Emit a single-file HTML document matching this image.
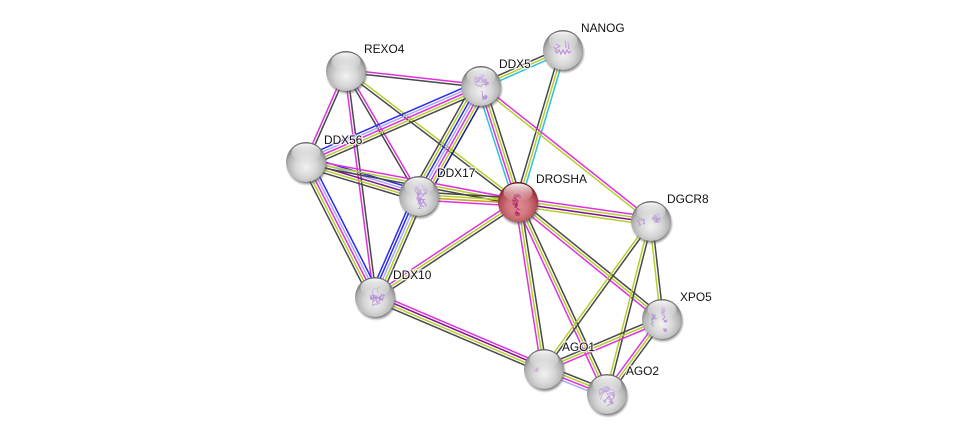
<!DOCTYPE html>
<html><head><meta charset="utf-8">
<style>
html,body{margin:0;padding:0;background:#fff;width:975px;height:438px;overflow:hidden}
svg{display:block}
text{font-family:"Liberation Sans",sans-serif;font-size:11.9px;fill:#111;paint-order:stroke;stroke:rgba(255,255,255,.75);stroke-width:2.5px}
</style></head><body>
<svg id="s" xmlns="http://www.w3.org/2000/svg" width="975" height="438" viewBox="0 0 975 438">
<defs>
<radialGradient id="g" cx=".5" cy=".62" r=".6">
<stop offset="0" stop-color="#f2f2f2"/><stop offset=".45" stop-color="#d6d6d6"/><stop offset=".75" stop-color="#b4b4b4"/><stop offset=".92" stop-color="#888"/><stop offset="1" stop-color="#686868"/>
</radialGradient>
<radialGradient id="r" cx=".5" cy=".62" r=".6">
<stop offset="0" stop-color="#e08d95"/><stop offset=".45" stop-color="#d0747c"/><stop offset=".75" stop-color="#b44e58"/><stop offset=".92" stop-color="#8c2a32"/><stop offset="1" stop-color="#6a1218"/>
</radialGradient>
<linearGradient id="h" x1="0" y1="0" x2="0" y2="1">
<stop offset="0" stop-color="#fff" stop-opacity=".95"/><stop offset=".55" stop-color="#fff" stop-opacity=".35"/><stop offset="1" stop-color="#fff" stop-opacity="0"/>
</linearGradient>
<radialGradient id="sh" cx=".5" cy=".5" r=".5">
<stop offset=".82" stop-color="#444" stop-opacity=".7"/><stop offset="1" stop-color="#777" stop-opacity="0"/>
</radialGradient>
<filter id="bl" x="-20%" y="-20%" width="140%" height="140%"><feGaussianBlur stdDeviation=".25"/></filter>
<g id="n"><circle cx="1" cy="2.5" r="21.5" fill="url(#sh)"/><circle r="20" fill="url(#g)"/></g>
<g id="m"><circle cx="1" cy="2.5" r="21.5" fill="url(#sh)"/><circle r="20" fill="url(#r)"/></g>
<ellipse id="hl" cx="0" cy="-9.5" rx="14.5" ry="9" fill="url(#h)"/>
</defs>
<g id="e"></g>

<use href="#n" x="346" y="71"/><use href="#hl" x="346" y="71"/>
<use href="#n" x="306" y="162"/><use href="#hl" x="306" y="162"/>

<use href="#n" x="481" y="86"/><g id="p_D5"></g><use href="#hl" x="481" y="86"/>

<use href="#n" x="563" y="50"/>
<path d="M555 50l2 3 2-3 2 4 2-4 2 4 2-4 2 3 2-2M565 40l1 8M568 42l1 7M556 44l4 2-3 2M554 47l3 3" fill="none" stroke="#b98ad8" stroke-width="1.1" filter="url(#bl)"/>
<use href="#hl" x="563" y="50"/>

<use href="#n" x="419" y="196"/><g id="p_D7"></g><use href="#hl" x="419" y="196"/>
<use href="#m" x="518" y="202"/><g id="p_DR"></g><use href="#hl" x="518" y="202"/>
<use href="#n" x="651" y="221"/><g id="p_G"></g><use href="#hl" x="651" y="221"/>
<use href="#n" x="662" y="319"/><g id="p_X"></g><use href="#hl" x="662" y="319"/>
<use href="#n" x="544" y="369"/><g id="p_A1"></g><use href="#hl" x="544" y="369"/>
<use href="#n" x="607" y="394"/><g id="p_A2"></g><use href="#hl" x="607" y="394"/>
<use href="#n" x="375" y="297"/><g id="p_D0"></g><use href="#hl" x="375" y="297"/>

<text x="364" y="53">REXO4</text>
<text x="499" y="68">DDX5</text>
<text x="581" y="32">NANOG</text>
<text x="324" y="144">DDX56</text>
<text x="437" y="177">DDX17</text>
<text x="536" y="183">DROSHA</text>
<text x="667" y="203">DGCR8</text>
<text x="680" y="301">XPO5</text>
<text x="562" y="351">AGO1</text>
<text x="626" y="375">AGO2</text>
<text x="393" y="279">DDX10</text>
</svg>
<script>
(function(){
var P={R:[346,71],D5:[481,86],N:[563,50],D6:[306,162],D7:[419,196],DR:[518,202],G:[651,221],X:[662,319],A1:[544,369],A2:[607,394],D0:[375,297]};
var k='#484848',y='#b5cf2a',m='#e02fe0',b='#2a2aee',l='#a8a8ff',c='#2fc0e0',v='#801090',n='#1a1a90',o='#c9a020';
var E=[
['R','D5',[m,k]],['R','D6',[k,m]],['R','D0',[k,m]],['R','D7',[m,k]],['R','DR',[y,k]],
['D5','N',[k,y,c]],['N','DR',[c,y,k]],['D5','DR',[k,y,m,c]],['D5','G',[m,y]],
['D5','D6',[k,y,m,l,b]],['D5','D7',[n,y,m,l,b,y,k]],['D7','D0',[k,y,l,b,b]],
['D6','D7',[b,l,v,y,k]],['D6','DR',[m,y,k]],['D6','D0',[b,l,m,y,k]],
['D7','DR',[k,y,o,m]],['D0','DR',[m,y,k]],['D0','A1',[m,v,y,k]],
['DR','G',[m,y,v,y]],['DR','A1',[k,y,m]],['DR','A2',[k,y,m]],['DR','X',[k,y,m]],
['G','A1',[k,y]],['G','A2',[k,y]],['G','X',[k,y]],
['X','A1',[m,y,k]],['X','A2',[k,y,m]],['A1','A2',[k,y,m,l]]
];
var g=document.getElementById('e'),S=2.7,ns='http://www.w3.org/2000/svg';
E.forEach(function(e){
var a=P[e[0]],d=P[e[1]],dx=d[0]-a[0],dy=d[1]-a[1],L=Math.sqrt(dx*dx+dy*dy),nx=-dy/L,ny=dx/L,C=e[2];
C.forEach(function(col,i){
var t=(i-(C.length-1)/2)*S,li=document.createElementNS(ns,'line');
li.setAttribute('x1',a[0]+nx*t);li.setAttribute('y1',a[1]+ny*t);
li.setAttribute('x2',d[0]+nx*t);li.setAttribute('y2',d[1]+ny*t);
li.setAttribute('stroke',col);li.setAttribute('stroke-width','1.5');
g.appendChild(li);
});
});
var seed=11;function rnd(){seed=(seed*16807)%2147483647;return seed/2147483647;}
/* protein ribbons: [node, cx, cy, rx, ry, rotation(rad), steps, colour, width] */
var B=[
['D5',481,83,8,11,0.15,90,'#b088d4',.7],['D5',482,95,7,6,0,40,'#b088d4',.7],
['D7',420,192,8,10,0,80,'#b088d4',.7],['D7',421,204,6,7,0,35,'#b088d4',.7],
['D0',378,295,7,12,.5,100,'#b088d4',.7],
['DR',517,205,5,13,0,90,'#a8245e',.7],
['G',643,223,6,5,0,35,'#b088d4',.7],['G',657,220,5,7,0,40,'#b088d4',.7],
['X',654,317,3,11,.1,45,'#b088d4',.8],['X',666,318,4,13,-.3,55,'#b088d4',.8],['X',666,331,4,3,0,16,'#b088d4',.8],
['A1',541,370,7,5,.3,16,'#c4a4dc',.6],
['A2',607,396,10,11,0,110,'#b088d4',.6]
];
B.forEach(function(q){
var cs=Math.cos(q[5]),sn=Math.sin(q[5]),d='',i,u=0,w=0;
for(i=0;i<q[6];i++){
var nu=u+(rnd()-.5)*7,nw=w+(rnd()-.5)*7;
if((nu*nu)/(q[3]*q[3])+(nw*nw)/(q[4]*q[4])<=1){u=nu;w=nw;}
var x=q[1]+u*cs-w*sn,yy=q[2]+u*sn+w*cs;
d+=(i?'L':'M')+x.toFixed(1)+' '+yy.toFixed(1);
}
var p=document.createElementNS(ns,'path');
p.setAttribute('d',d);p.setAttribute('fill','none');p.setAttribute('stroke',q[7]);
p.setAttribute('stroke-width',q[8]);p.setAttribute('opacity','.85');p.setAttribute('filter','url(#bl)');
document.getElementById('p_'+q[0]).appendChild(p);
});
})();
</script>
</body></html>
